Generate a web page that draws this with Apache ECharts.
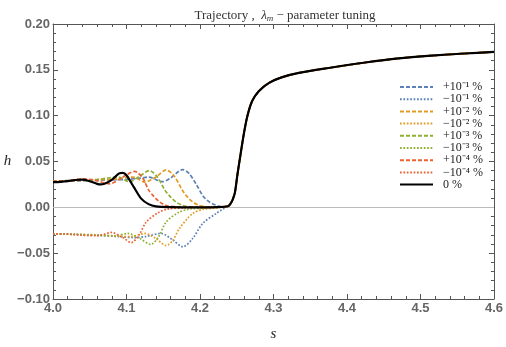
<!DOCTYPE html>
<html lang="en">
<head>
<meta charset="UTF-8">
<title>Trajectory</title>
<script src="https://cdn.jsdelivr.net/npm/echarts@6/dist/echarts.min.js"></script>
<style>
  html, body { margin: 0; padding: 0; background: #fff; }
  #main { width: 506px; height: 347px; }
</style>
</head>
<body>
<div id="main"></div>
<script>
// shared tail: all curves coincide with the 0 % curve after s ~ 4.24
var tail = [
  [4.238, 0.0012], [4.2415, 0.0040], [4.2445, 0.0085], [4.2475, 0.0160], [4.251, 0.0360],
  [4.2556, 0.0600], [4.260, 0.0817], [4.2645, 0.0997], [4.271, 0.1160], [4.280, 0.1267],
  [4.294, 0.1358], [4.312, 0.1420], [4.3345, 0.1466], [4.375, 0.1520], [4.425, 0.1580],
  [4.47, 0.1625], [4.515, 0.1655], [4.56, 0.1678], [4.60, 0.1695]
];

var zeroHead = [
  [4.00, 0.0275], [4.01, 0.0278], [4.02, 0.0285], [4.03, 0.0298], [4.04, 0.0302],
  [4.05, 0.0285], [4.06, 0.0256], [4.065, 0.0250], [4.07, 0.0258], [4.08, 0.0300],
  [4.09, 0.0370], [4.095, 0.0376], [4.10, 0.0350], [4.11, 0.0220], [4.12, 0.0095],
  [4.13, 0.0035], [4.14, 0.0010], [4.16, 0.0002], [4.20, 0.0000], [4.225, 0.0003]
];

var plus1 = [
  [4.00, 0.0280], [4.03, 0.0287], [4.06, 0.0295], [4.08, 0.0300], [4.10, 0.0305],
  [4.12, 0.0320], [4.13, 0.0330], [4.149, 0.0280], [4.16, 0.0320], [4.1766, 0.0412],
  [4.185, 0.0370], [4.195, 0.0250], [4.2036, 0.0130], [4.21, 0.0075], [4.217, 0.0040],
  [4.225, 0.0015], [4.232, 0.0008]
];
var minus1 = [
  [4.00, -0.0290], [4.03, -0.0295], [4.06, -0.0305], [4.09, -0.0320], [4.11, -0.0330],
  [4.125, -0.0320], [4.147, -0.0285], [4.162, -0.0350], [4.1766, -0.0430], [4.19, -0.0340],
  [4.2036, -0.0177], [4.2217, -0.0068], [4.232, -0.0015]
];
var plus2 = [
  [4.00, 0.0280], [4.03, 0.0290], [4.06, 0.0300], [4.08, 0.0305], [4.095, 0.0320],
  [4.109, 0.0330], [4.125, 0.0275], [4.14, 0.0330], [4.154, 0.0408], [4.165, 0.0340],
  [4.175, 0.0200], [4.181, 0.0130], [4.19, 0.0060], [4.199, 0.0020], [4.21, 0.0006],
  [4.228, 0.0002]
];
var minus2 = [
  [4.00, -0.0290], [4.03, -0.0295], [4.06, -0.0300], [4.09, -0.0315], [4.105, -0.0320],
  [4.125, -0.0285], [4.14, -0.0340], [4.154, -0.0418], [4.163, -0.0360], [4.172, -0.0230],
  [4.19, -0.0068], [4.205, -0.0020], [4.225, -0.0005]
];
var plus3 = [
  [4.00, 0.0285], [4.03, 0.0295], [4.06, 0.0305], [4.075, 0.0320], [4.088, 0.0330],
  [4.104, 0.0280], [4.118, 0.0340], [4.131, 0.0400], [4.142, 0.0330], [4.152, 0.0190],
  [4.158, 0.0130], [4.167, 0.0060], [4.1766, 0.0020], [4.19, 0.0006], [4.21, 0.0002]
];
var minus3 = [
  [4.00, -0.0290], [4.03, -0.0295], [4.06, -0.0305], [4.085, -0.0310], [4.102, -0.0285],
  [4.118, -0.0340], [4.133, -0.0404], [4.143, -0.0330], [4.154, -0.0160], [4.17, -0.0060],
  [4.185, -0.0020], [4.21, -0.0005]
];
var plus4 = [
  [4.00, 0.0285], [4.02, 0.0290], [4.04, 0.0310], [4.055, 0.0300], [4.077, 0.0257],
  [4.095, 0.0330], [4.111, 0.0392], [4.122, 0.0320], [4.13, 0.0190], [4.136, 0.0130],
  [4.145, 0.0060], [4.154, 0.0020], [4.17, 0.0006], [4.20, 0.0001]
];
var minus4 = [
  [4.00, -0.0290], [4.02, -0.0292], [4.04, -0.0305], [4.06, -0.0310], [4.0795, -0.0274],
  [4.095, -0.0330], [4.1066, -0.0385], [4.117, -0.0300], [4.127, -0.0160], [4.1427, -0.0060],
  [4.155, -0.0020], [4.18, -0.0005]
];

var names = ['+10⁻¹ %', '−10⁻¹ %', '+10⁻² %', '−10⁻² %', '+10⁻³ %', '−10⁻³ %', '+10⁻⁴ %', '−10⁻⁴ %', '0 %'];
var heads = [plus1, minus1, plus2, minus2, plus3, minus3, plus4, minus4, zeroHead];
var colors = ['#5E81B5', '#5E81B5', '#E19C24', '#E19C24', '#8FB032', '#8FB032', '#EB6235', '#EB6235', '#000000'];

var tickFmt = function (v) {
  return v.toFixed(2).replace('-', '\u2212');
};
var tickFmtX = function (v) {
  return v.toFixed(1);
};

var series = [];
for (var i = 0; i < names.length; i++) {
  var isZero = i === 8;
  var s = {
    name: names[i],
    type: 'line',
    data: heads[i].concat(tail),
    showSymbol: false,
    symbol: 'none',
    smooth: 0.3,
    z: isZero ? 5 : 3,
    lineStyle: {
      color: colors[i],
      width: isZero ? 2.2 : 1.7,
      type: isZero ? 'solid' : (i % 2 === 0 ? [4, 2] : [1.7, 1.7])
    },
    itemStyle: { color: colors[i] }
  };
  if (i === 0) {
    s.markLine = {
      silent: true,
      symbol: 'none',
      label: { show: false },
      lineStyle: { color: '#bbbbbb', width: 1, type: 'solid' },
      data: [{ yAxis: 0 }],
      z: 1
    };
  }
  series.push(s);
}

var axisCommon = {
  axisLine: { show: true, onZero: false, lineStyle: { color: '#555', width: 1 } },
  axisTick: { show: true, inside: true, length: 5, lineStyle: { color: '#555' } },
  minorTick: { show: true, splitNumber: 5, length: 3, lineStyle: { color: '#555' } },
  splitLine: { show: false }
};

var myChart = echarts.init(document.getElementById('main'));
myChart.setOption({
  animation: false,
  title: {
    text: '{n|Trajectory ,  }{i|λ}{sub|m}{n| − parameter tuning}',
    left: 280,
    textAlign: 'center',
    top: 3,
    textStyle: {
      fontWeight: 'normal',
      rich: {
        n: { fontFamily: 'Liberation Serif, serif', fontWeight: 'normal', fontSize: 13, color: '#333' },
        i: { fontFamily: 'Liberation Serif, serif', fontWeight: 'normal', fontStyle: 'italic', fontSize: 13, color: '#333' },
        sub: { fontFamily: 'Liberation Serif, serif', fontWeight: 'normal', fontStyle: 'italic', fontSize: 9, color: '#333', verticalAlign: 'bottom', padding: [6, 0, 0, 0] }
      }
    }
  },
  grid: { left: 53, right: 10, top: 24, bottom: 46, containLabel: false },
  legend: {
    orient: 'vertical',
    left: 399,
    top: 81,
    padding: 0,
    itemWidth: 33,
    itemHeight: 8,
    itemGap: 0.2,
    itemStyle: { opacity: 0 },
    textStyle: { fontFamily: 'Liberation Serif, serif', fontSize: 12, lineHeight: 8, color: '#222', padding: [0, 0, 0, 5] },
    data: names
  },
  xAxis: [
    Object.assign({}, axisCommon, {
      type: 'value', min: 4.0, max: 4.6, interval: 0.1,
      position: 'bottom',
      name: 's', nameLocation: 'middle', nameGap: 28,
      nameTextStyle: { fontFamily: 'Liberation Serif, serif', fontStyle: 'italic', fontSize: 15, color: '#222' },
      axisLabel: { formatter: tickFmtX, fontFamily: 'Liberation Sans, Arial, sans-serif', fontWeight: 'bold', fontSize: 13, color: '#666', margin: 3 }
    }),
    Object.assign({}, axisCommon, {
      type: 'value', min: 4.0, max: 4.6, interval: 0.1,
      position: 'top',
      axisLabel: { show: false }
    })
  ],
  yAxis: [
    Object.assign({}, axisCommon, {
      type: 'value', min: -0.10, max: 0.20, interval: 0.05,
      position: 'left',
      name: 'h', nameLocation: 'middle', nameGap: 38, nameRotate: 0,
      nameTextStyle: { fontFamily: 'Liberation Serif, serif', fontStyle: 'italic', fontSize: 15, color: '#222' },
      axisLabel: { formatter: tickFmt, fontFamily: 'Liberation Sans, Arial, sans-serif', fontWeight: 'bold', fontSize: 13, color: '#666', margin: 3 }
    }),
    Object.assign({}, axisCommon, {
      type: 'value', min: -0.10, max: 0.20, interval: 0.05,
      position: 'right',
      axisLabel: { show: false }
    })
  ],
  series: series
});
</script>
</body>
</html>
